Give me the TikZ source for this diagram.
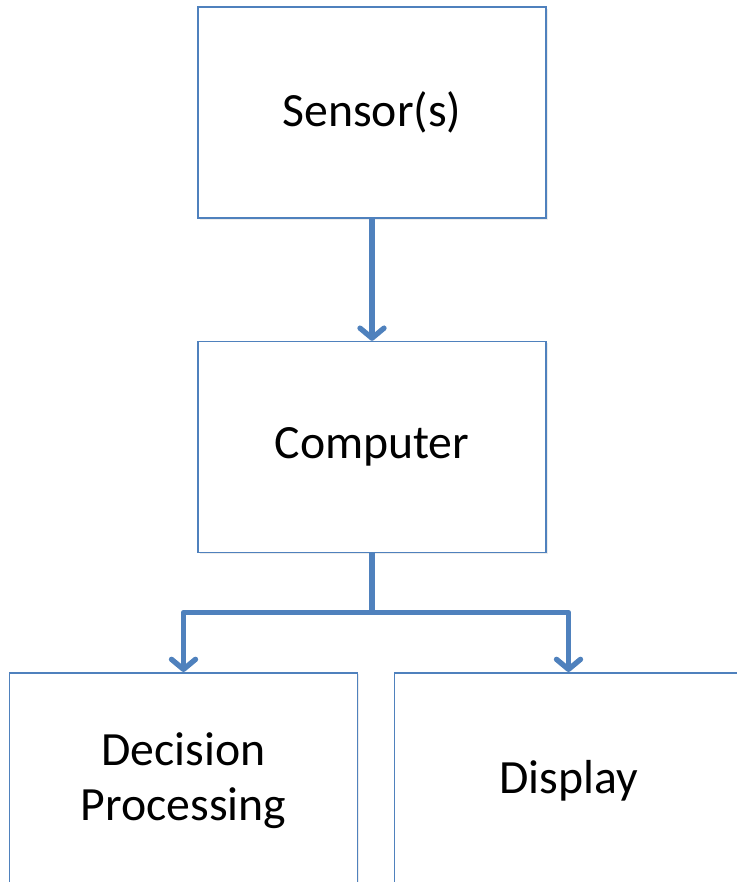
\documentclass[tikz,border=0pt]{standalone}
\usepackage{fontspec}
\setmainfont{Carlito}
\usepackage{tikz}
\usetikzlibrary{arrows.meta,positioning,shadows}

\definecolor{boxblue}{HTML}{4F81BD}

\begin{document}
\begin{tikzpicture}[
  x=0.75pt, y=0.75pt,
  font=\fontsize{35.8}{41}\selectfont,
  block/.style={draw=boxblue, line width=1.2pt, fill=white, align=center, inner sep=0pt,
    minimum width=261pt, minimum height=158.25pt,
    drop shadow={shadow xshift=1.2pt, shadow yshift=-1.2pt, opacity=0.15}},
  tall/.style={block, minimum height=162pt, anchor=north},
  link/.style={draw=boxblue, line width=4pt, line join=round,
    -{Straight Barb[length=7.5pt, width=18pt, round]}}
]
\useasboundingbox (0,0) rectangle (737,-882);
\clip (0,0) rectangle (737,-882);

\node[block] (sensor) at (372,-112.5) {Sensor(s)};
\node[block, below=91.5pt of sensor] (computer) {Computer};
\coordinate[below=44.25pt of computer] (fork);

\node[tall] (decision) at (183.5,-672) {Decision\\Processing};
\node[tall] (display) at (568.5,-672) {Display};

\draw[link] (sensor) -- (computer);
\draw[link] (computer.south) -- (fork) -| (decision.north);
\draw[link] (fork) -| (display.north);
\end{tikzpicture}
\end{document}
